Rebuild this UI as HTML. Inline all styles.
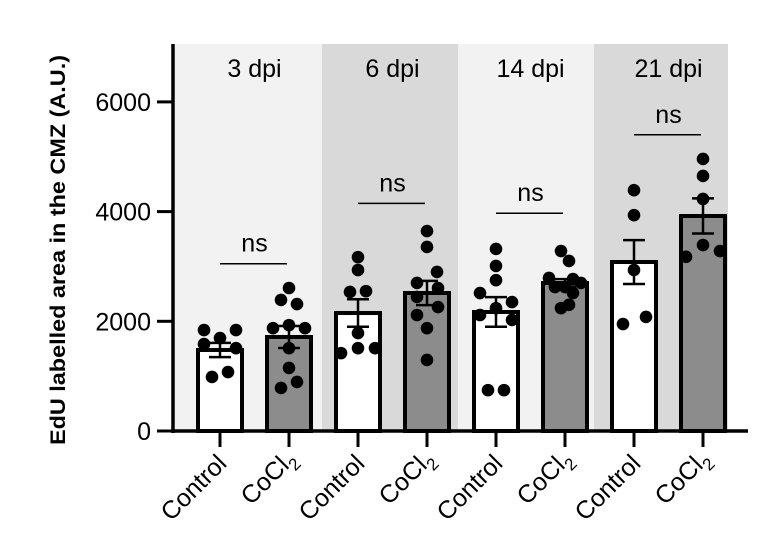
<!DOCTYPE html>
<html><head><meta charset="utf-8"><style>
html,body{margin:0;padding:0;background:#fff;}
svg{display:block;font-family:"Liberation Sans",Arial,sans-serif;}
</style></head><body>
<svg id="chart" width="782" height="556" viewBox="0 0 782 556" xmlns="http://www.w3.org/2000/svg"></svg>
<script>
const groups = ["Control","CoCl2","Control","CoCl2","Control","CoCl2","Control","CoCl2"];
const panels = ["3 dpi","6 dpi","14 dpi","21 dpi"];
const means = [1477,1714,2151,2516,2170,2698,3081,3920];
const sems = [130,200,250,220,270,70,400,320];
const points = [
 [1840,1695,1840,1585,1510,985,1075],
 [2607,2390,2315,1875,1930,1875,1510,1150,895,785],
 [3170,2935,2535,2550,1785,1510,1420,1510],
 [3645,3355,2900,2700,2607,2445,2260,2115,1875,1295],
 [3320,3010,2750,2515,2350,2240,2115,2025,745,745],
 [3280,3100,2790,2770,2700,2625,2625,2515,2240,2300],
 [4390,3935,2935,2080,1950],
 [4960,4650,4230,3390,3175,3280]
];
const jitter = [
 [-0.8,0,0.8,-0.8,0.8,-0.4,0.4],
 [0,-0.4,0.4,-0.8,0,0.8,0,0,0.4,-0.4],
 [0,0,-0.4,0.4,0,0,-0.85,0.85],
 [0,0,0.5,-0.5,0.55,-0.5,0.55,-0.5,0,0],
 [0,0,0,-0.8,0.8,0,-0.8,0.8,-0.4,0.4],
 [-0.2,0.2,-0.8,0.4,0.8,-0.5,0,0.4,-0.2,0.2],
 [0,0,0,0.6,-0.55],
 [0,0,0,0,-0.85,0.85]
];
const pvalLabels = ["ns","ns","ns","ns"];
const pvalHeights = [3050,4150,3970,5400];
const yTicks = [0,2000,4000,6000];

const NS="http://www.w3.org/2000/svg";
const svg=document.getElementById('chart');
const x0=173, yBase=431, pxPer=109.7/2000;
const yS=v=>yBase-v*pxPer;
const xS=i=>220+i*69;
function mk(t,a,p){const e=document.createElementNS(NS,t);for(const k in a)e.setAttribute(k,a[k]);(p||svg).appendChild(e);return e;}

const FS=25;
// panels
const pEdges=[175,322,458,594,728];
panels.forEach((p,i)=>{
 const r=mk('rect',{x:pEdges[i],y:44,width:pEdges[i+1]-pEdges[i],height:yBase-44,fill:i%2?'#d9d9d9':'#f2f2f2'});
 
 
 const t=mk('text',{x:(xS(2*i)+xS(2*i+1))/2,y:77,'font-size':FS,'text-anchor':'middle',fill:'#000'});
 t.textContent=p;
 
 
});

// bars
const bw=44;
means.forEach((m,i)=>{
 const b=mk('rect',{x:xS(i)-bw/2,y:yS(m),width:bw,height:yBase-yS(m),fill:i%2?'#8c8c8c':'#fff',stroke:'#000','stroke-width':4});
 
 
});
// points
points.forEach((arr,i)=>{
 arr.forEach((v,j)=>{
  const c=mk('circle',{cx:xS(i)+jitter[i][j]*20,cy:yS(v),r:6.3,fill:'#000'});
  
  
 });
});
// error bars
means.forEach((m,i)=>{
 const g=mk('g',{stroke:'#000','stroke-width':2.5});
 
 
 const x=xS(i),a=yS(m+sems[i]),b=yS(m-sems[i]);
 mk('line',{x1:x,x2:x,y1:a,y2:b},g);
 mk('line',{x1:x-11,x2:x+11,y1:a,y2:a},g);
 mk('line',{x1:x-11,x2:x+11,y1:b,y2:b},g);
});
// significance
pvalLabels.forEach((s,i)=>{
 const y=yS(pvalHeights[i]);
 const l=mk('line',{x1:xS(2*i),x2:xS(2*i+1)-2,y1:y,y2:y,stroke:'#000','stroke-width':1.5});
 
 
 const t=mk('text',{x:(xS(2*i)+xS(2*i+1))/2,y:y-12,'font-size':FS,'text-anchor':'middle'});
 t.textContent=s;
 
 
});
// axes
const ya=mk('line',{x1:x0,x2:x0,y1:44,y2:yBase+2,stroke:'#000','stroke-width':3.5});


const xa=mk('line',{x1:x0-2,x2:748,y1:yBase,y2:yBase,stroke:'#000','stroke-width':3.5});


yTicks.forEach(v=>{
 const y=yS(v);
 const tk=mk('line',{x1:157,x2:x0,y1:y,y2:y,stroke:'#000','stroke-width':3});
 
 
 const t=mk('text',{x:151,y:y+9,'font-size':FS,'text-anchor':'end'});
 t.textContent=v;
 
 
});
groups.forEach((g,i)=>{
 const x=xS(i);
 const tk=mk('line',{x1:x,x2:x,y1:yBase,y2:447,stroke:'#000','stroke-width':3});
 
 
 const t=mk('text',{x:0,y:0,'font-size':FS,'text-anchor':'end',transform:`translate(${x+8},${i%2?460:465}) rotate(-45)`});
 if(g==='CoCl2'){t.appendChild(document.createTextNode('CoCl'));const s=mk('tspan',{'font-size':17,dy:7},t);s.textContent='2';}
 else t.textContent=g;
 
 
});
const yt=mk('text',{x:0,y:0,'font-size':21,'font-weight':'bold','text-anchor':'middle',textLength:390,lengthAdjust:'spacingAndGlyphs',transform:'translate(65,250) rotate(-90)'});
yt.textContent='EdU labelled area in the CMZ (A.U.)';


</script>
</body></html>
